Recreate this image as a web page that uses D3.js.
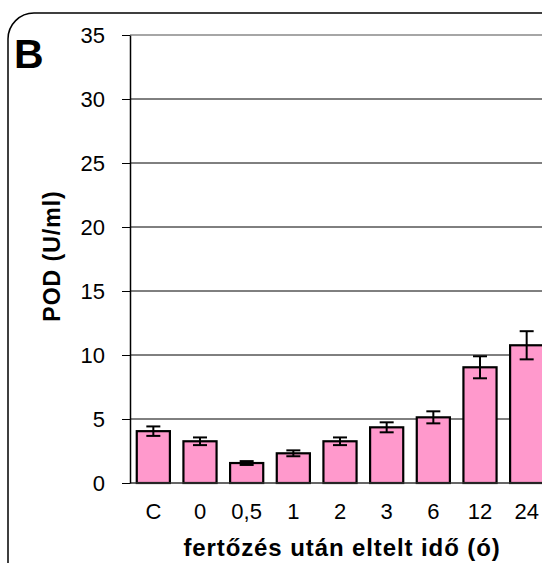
<!DOCTYPE html>
<html><head><meta charset="utf-8">
<script src="https://cdn.jsdelivr.net/npm/d3@7"></script>
<style>body{margin:0;background:#fff}svg{display:block;font-family:"Liberation Sans",Arial,sans-serif}</style>
</head><body>
<script>
const categories = ["C","0","0,5","1","2","3","6","12","24"];
const values = [4.05, 3.26, 1.56, 2.32, 3.26, 4.35, 5.13, 9.04, 10.76];
const errors = [0.37, 0.3, 0.15, 0.23, 0.3, 0.39, 0.47, 0.86, 1.1];
const yTicks = [0,5,10,15,20,25,30,35];

const W = 542, H = 563;
const svg = d3.select("body").append("svg").attr("width", W).attr("height", H);

svg.append("rect").attr("x", 8).attr("y", 13).attr("width", 560).attr("height", 580)
  .attr("rx", 26).attr("ry", 26).attr("fill", "none").attr("stroke", "#000").attr("stroke-width", 1.5);

const mLeft = 130, mTop = 35, mBottom = 483, mRight = 550;
const x = d3.scaleBand().domain(categories).range([mLeft, mRight]).paddingInner(0.29).paddingOuter(0.145);
const y = d3.scaleLinear().domain([0, 35]).range([mBottom, mTop]);

// gridlines
svg.append("g").selectAll("line").data(yTicks.filter(d => d > 0)).join("line")
  .attr("x1", mLeft).attr("x2", mRight).attr("y1", d => y(d)).attr("y2", d => y(d))
  .attr("stroke", d => d === 35 ? "#888" : "#000").attr("stroke-width", d => d === 35 ? 1.5 : 1);

// bars
svg.append("g").selectAll("rect").data(values).join("rect")
  .attr("x", (d, i) => x(categories[i])).attr("width", x.bandwidth())
  .attr("y", d => y(d)).attr("height", d => y(0) - y(d))
  .attr("fill", "#FF99CC").attr("stroke", "#000").attr("stroke-width", 2.2);

// error bars
const eg = svg.append("g").attr("stroke", "#000").attr("stroke-width", 2);
values.forEach((v, i) => {
  const cx = x(categories[i]) + x.bandwidth() / 2;
  eg.append("line").attr("x1", cx).attr("x2", cx).attr("y1", y(v - errors[i])).attr("y2", y(v + errors[i]));
  [v - errors[i], v + errors[i]].forEach(e => {
    eg.append("line").attr("x1", cx - 7).attr("x2", cx + 7).attr("y1", y(e)).attr("y2", y(e));
  });
});

// x axis line
svg.append("line").attr("x1", mLeft).attr("x2", mRight).attr("y1", y(0)).attr("y2", y(0))
  .attr("stroke", "#333").attr("stroke-width", 1.5);

// y axis
const ya = svg.append("g").attr("transform", `translate(${mLeft},0)`)
  .call(d3.axisLeft(y).tickValues(yTicks).tickSize(8).tickPadding(17).tickSizeOuter(0));
ya.select(".domain").attr("stroke", "#000").attr("stroke-width", 1.5);
ya.selectAll(".tick line").attr("stroke", "#000");
ya.selectAll("text").attr("font-size", 22).attr("font-family", "Liberation Sans, Arial, sans-serif").attr("fill", "#000");

// x axis labels
const xa = svg.append("g").attr("transform", `translate(0,${mBottom})`)
  .call(d3.axisBottom(x).tickSize(0).tickPadding(20));
xa.select(".domain").remove();
xa.selectAll("text").attr("font-size", 22).attr("font-family", "Liberation Sans, Arial, sans-serif").attr("fill", "#000");

// titles
svg.append("text").attr("x", 342).attr("y", 556).attr("text-anchor", "middle")
  .attr("font-size", 24).attr("font-weight", "bold").attr("letter-spacing", 0.9).text("fertőzés után eltelt idő (ó)");
svg.append("text").attr("transform", "translate(60,256) rotate(-90)").attr("text-anchor", "middle")
  .attr("font-size", 23).attr("font-weight", "bold").attr("letter-spacing", 1).text("POD (U/ml)");
svg.append("text").attr("x", 14).attr("y", 68).attr("font-size", 41).attr("font-weight", "bold").text("B");
</script>
</body></html>
